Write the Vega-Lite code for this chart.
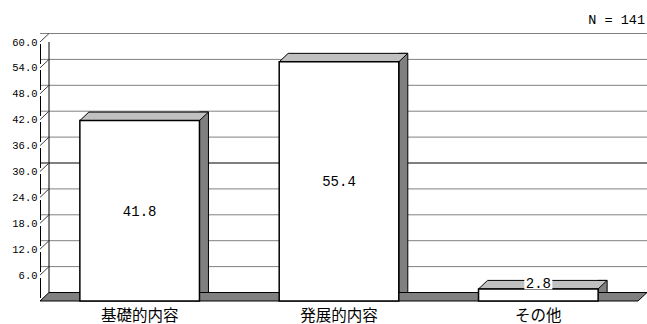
{
  "$schema": "https://vega.github.io/schema/vega-lite/v6.json",
  "width": 598,
  "height": 259,
  "autosize": "none",
  "padding": {"left": 40, "top": 42, "right": 9, "bottom": 23},
  "background": "white",
  "config": {
    "view": {"stroke": null},
    "font": "Liberation Mono",
    "axisX": {
      "domain": false,
      "ticks": false,
      "grid": false,
      "labelAngle": 0,
      "labelFont": "Noto Sans CJK JP",
      "labelFontSize": 15.5,
      "labelColor": "black",
      "labelPadding": 7
    }
  },
  "datasets": {
    "bars": [
      {"cat": "基礎的内容", "value": 41.8},
      {"cat": "発展的内容", "value": 55.4},
      {"cat": "その他", "value": 2.8}
    ],
    "grid": [
      {"v": 6}, {"v": 12}, {"v": 18}, {"v": 24}, {"v": 30},
      {"v": 36}, {"v": 42}, {"v": 48}, {"v": 54}, {"v": 60}
    ],
    "note": [{"n": "N = 141"}]
  },
  "resolve": {"scale": {"x": "independent"}, "axis": {"x": "independent", "y": "independent"}},
  "layer": [
    {
      "data": {"name": "grid"},
      "mark": {"type": "rule", "xOffset": 9, "yOffset": -8.5, "strokeWidth": 1},
      "encoding": {
        "y": {
          "field": "v",
          "type": "quantitative",
          "scale": {"domain": [0, 60], "nice": false},
          "axis": {
            "orient": "left",
            "values": [6, 12, 18, 24, 30, 36, 42, 48, 54, 60],
            "format": ".1f",
            "title": null,
            "labelFont": "Liberation Mono",
            "labelFontSize": 10.5,
            "labelColor": "black",
            "labelPadding": 3,
            "labelOverlap": false,
            "labelFlush": false,
            "ticks": false,
            "grid": false,
            "domain": false
          }
        },
        "color": {"condition": {"test": "datum.v === 30", "value": "black"}, "value": "#808080"}
      }
    },
    {
      "data": {"values": [{}]},
      "mark": {
        "type": "point",
        "shape": "M-299,0H299L308,-8.5H-290Z",
        "size": 4,
        "filled": true,
        "fill": "#808080",
        "stroke": "black",
        "strokeWidth": 1,
        "opacity": 1
      },
      "encoding": {
        "y": {"datum": 0, "type": "quantitative", "axis": null}
      }
    },
    {
      "data": {"values": [{}]},
      "mark": {"type": "rule", "xOffset": 9, "yOffset": -8.5, "color": "black", "strokeWidth": 1},
      "encoding": {
        "x": {"datum": 0, "type": "quantitative", "scale": {"domain": [0, 1], "nice": false}, "axis": null},
        "y": {"datum": 0, "type": "quantitative", "axis": null},
        "y2": {"datum": 60}
      }
    },
    {
      "data": {"values": [{}]},
      "mark": {"type": "rule", "xOffset": 0.5, "color": "black", "strokeWidth": 1, "strokeDash": [20, 6], "strokeDashOffset": 23},
      "encoding": {
        "x": {"datum": 0, "type": "quantitative", "scale": {"domain": [0, 1], "nice": false}, "axis": null},
        "y": {"datum": 0, "type": "quantitative", "axis": null},
        "y2": {"datum": 60}
      }
    },
    {
      "data": {"name": "grid"},
      "mark": {
        "type": "point",
        "shape": "M0,0L9,-8.5",
        "size": 4,
        "filled": false,
        "stroke": "#404040",
        "strokeWidth": 1,
        "opacity": 1
      },
      "encoding": {
        "x": {"datum": 0, "type": "quantitative", "scale": {"domain": [0, 1], "nice": false}, "axis": null},
        "y": {"field": "v", "type": "quantitative", "axis": null}
      }
    },
    {
      "data": {"name": "note"},
      "mark": {
        "type": "text",
        "font": "Liberation Mono",
        "fontSize": 13.5,
        "color": "black",
        "align": "right",
        "baseline": "middle",
        "dx": 7,
        "dy": -22
      },
      "encoding": {
        "x": {"datum": 1, "type": "quantitative", "scale": {"domain": [0, 1], "nice": false}, "axis": null},
        "y": {"datum": 60, "type": "quantitative", "axis": null},
        "text": {"field": "n", "type": "nominal"}
      }
    },
    {
      "data": {"name": "bars"},
      "mark": {
        "type": "bar",
        "width": 9,
        "xOffset": 64.3,
        "yOffset": -8.5,
        "fill": "#808080",
        "stroke": "black",
        "strokeWidth": 1
      },
      "encoding": {
        "x": {"field": "cat", "type": "nominal", "sort": null, "scale": {"paddingInner": 0.4, "paddingOuter": 0.2}, "axis": null},
        "y": {"field": "value", "type": "quantitative", "axis": null}
      }
    },
    {
      "data": {"name": "bars"},
      "mark": {
        "type": "point",
        "shape": "M-59.8,0H59.8L68.8,-8.5H-50.8Z",
        "size": 4,
        "filled": true,
        "fill": "#c0c0c0",
        "stroke": "black",
        "strokeWidth": 1,
        "opacity": 1
      },
      "encoding": {
        "x": {"field": "cat", "type": "nominal", "sort": null, "scale": {"paddingInner": 0.4, "paddingOuter": 0.2}, "axis": null},
        "y": {"field": "value", "type": "quantitative", "axis": null}
      }
    },
    {
      "data": {"name": "bars"},
      "mark": {"type": "bar", "fill": "white", "stroke": "black", "strokeWidth": 1.5},
      "encoding": {
        "x": {"field": "cat", "type": "nominal", "sort": null, "title": null, "scale": {"paddingInner": 0.4, "paddingOuter": 0.2}},
        "y": {"field": "value", "type": "quantitative", "axis": null}
      }
    },
    {
      "data": {"name": "bars"},
      "transform": [
        {"calculate": "datum.value >= 10 ? datum.value / 2 : datum.value + 1.4", "as": "labelPos"}
      ],
      "mark": {
        "type": "point",
        "shape": "M-14,-6.5H14V6.5H-14Z",
        "size": 4,
        "filled": true,
        "fill": "white",
        "strokeWidth": 0,
        "opacity": 1
      },
      "encoding": {
        "x": {"field": "cat", "type": "nominal", "sort": null, "scale": {"paddingInner": 0.4, "paddingOuter": 0.2}, "axis": null},
        "y": {"field": "labelPos", "type": "quantitative", "axis": null}
      }
    },
    {
      "data": {"name": "bars"},
      "transform": [
        {"calculate": "datum.value >= 10 ? datum.value / 2 : datum.value + 1.4", "as": "labelPos"}
      ],
      "mark": {
        "type": "text",
        "font": "Liberation Mono",
        "fontSize": 14,
        "color": "black",
        "baseline": "middle",
        "align": "center",
        "dy": 1
      },
      "encoding": {
        "x": {"field": "cat", "type": "nominal", "sort": null, "scale": {"paddingInner": 0.4, "paddingOuter": 0.2}, "axis": null},
        "y": {"field": "labelPos", "type": "quantitative", "axis": null},
        "text": {"field": "value", "type": "quantitative", "format": ".1f"}
      }
    }
  ]
}
